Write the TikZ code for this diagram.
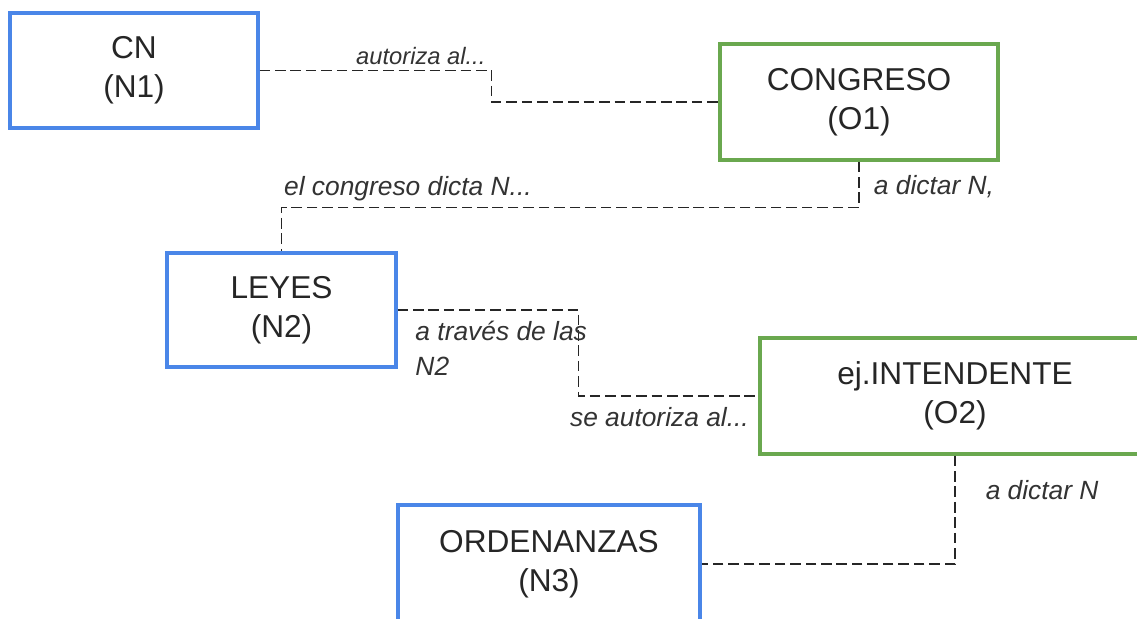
\documentclass[tikz,border=0pt]{standalone}
\usepackage{fontspec}
\setmainfont{Liberation Sans}
\usepackage{tikz}
\usetikzlibrary{positioning}

\definecolor{azul}{HTML}{4A86E8}
\definecolor{verde}{HTML}{6AA84F}

\begin{document}
\begin{tikzpicture}[x=0.02cm,y=-0.02cm]
\tikzstyle{caja}=[
	rectangle,
	draw,
	line width=1.8pt,
	fill=white,
	align=center,
	text=black!85,
	font=\fontsize{18}{22}\selectfont ]
\tikzstyle{norma}=[caja, draw=azul]
\tikzstyle{organo}=[caja, draw=verde]
\tikzstyle{enlace}=[draw=black!85, line width=1pt, dash pattern=on 6pt off 2.8pt]
\tikzstyle{etiqueta}=[inner sep=1pt, text=black!80, align=left,
	font=\fontsize{15}{20}\selectfont\itshape]
\clip (0,0) rectangle (1137,619);
\fill[white] (0,0) rectangle (1137,619);
% normas
\node[norma, minimum width=4.96cm, minimum height=2.3cm] (n1) at (134,70.5) {CN\\(N1)};
\node[norma, minimum width=4.58cm, minimum height=2.28cm] (n2) at (281.5,310) {LEYES\\(N2)};
\node[norma, minimum width=6.04cm, minimum height=2.36cm] (n3) at (549,564) {ORDENANZAS\\(N3)};
% organos
\node[organo, minimum width=5.56cm, minimum height=2.32cm] (o1) at (859,102) {CONGRESO\\(O1)};
\node[organo, minimum width=7.8cm, minimum height=2.32cm] (o2) at (955,396) {ej.INTENDENTE\\(O2)};
% conexiones
\draw[enlace] (n1.east) -- node[etiqueta, font=\fontsize{13.5}{19}\selectfont\itshape, pos=1, anchor=south east, xshift=-2pt, yshift=2pt] {autoriza al...} ++(232,0) |- (o1.west);
\draw[enlace] (o1.south) -- node[etiqueta, pos=0.55, anchor=west, xshift=7pt] {a dictar N,} ++(0,46)
	-| node[etiqueta, pos=0.5, anchor=south west, yshift=2pt] {el congreso dicta N...} (n2.north);
\draw[enlace] (n2.east) -- ++(181,0)
	|- node[etiqueta, pos=1, anchor=north east, xshift=-4pt, yshift=-5pt] {se autoriza al...} (o2.west);
\node[etiqueta, anchor=north west] (t2) at ([xshift=9pt, yshift=-5pt]n2.east) {a través de las\\N2};
\draw[enlace] (o2.south) |- node[etiqueta, pos=0.16, anchor=west, xshift=16pt] {a dictar N} (n3.east);
\end{tikzpicture}
\end{document}
